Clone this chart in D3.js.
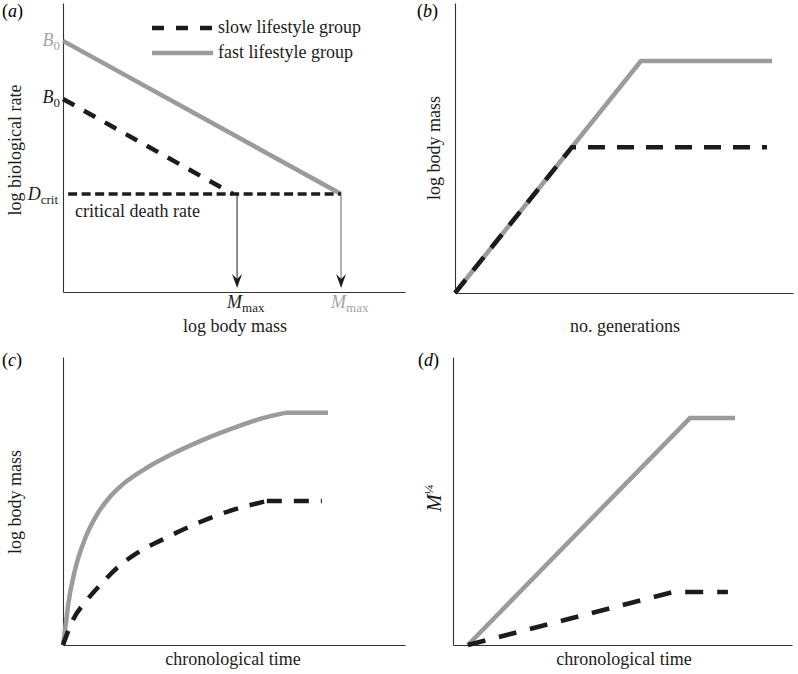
<!DOCTYPE html>
<html>
<head>
<meta charset="utf-8">
<script src="https://cdn.jsdelivr.net/npm/d3@7"></script>
<style>
body { margin: 0; background: #fff; }
svg { display: block; font-family: "Liberation Serif", "Times New Roman", "DejaVu Serif", serif; font-size: 18px; }
</style>
</head>
<body>
<svg width="798" height="674"></svg>
<script>
var svg = d3.select("svg");
var black = "#1c1c1c", grey = "#9b9b9b";

// data, every panel uses a 0..10 domain on both axes
var legendNames = ["slow lifestyle group", "fast lifestyle group"];

var aFast = [[0, 8.69], [8.13, 3.39]];
var aSlow = [[0, 6.68], [4.97, 3.39]];
var aDcrit = [[0.15, 3.39], [8.13, 3.39]];
var aArrowX = [5.09, 8.13];          // M_max slow, M_max fast
var aArrowY = [3.39, 0.14];          // from D_crit down to axis

var bFast = [[0, 0], [5.50, 8.0], [9.38, 8.0]];
var bSlow = [[0, 0], [3.46, 5.03], [9.23, 5.03]];

var cFast = [[0, 0], [0.09, 0.80], [0.15, 1.39], [0.35, 2.60], [0.64, 3.68], [1.02, 4.58],
             [1.37, 5.14], [1.73, 5.56], [2.49, 6.18], [3.19, 6.63], [4.01, 7.08],
             [4.97, 7.53], [5.76, 7.85], [6.49, 8.06]];
var cFastFlat = [[6.49, 8.06], [7.75, 8.06]];
var cSlow = [[0, 0], [0.29, 0.87], [0.70, 1.56], [1.14, 2.15], [1.61, 2.71], [2.16, 3.19],
             [2.89, 3.65], [4.01, 4.27], [4.97, 4.69], [5.96, 5.0]];
var cSlowFlat = [[5.96, 5.0], [7.57, 5.0]];

var dFast = [[0.44, 0], [6.99, 7.88], [8.32, 7.88]];
var dSlow = [[0.44, 0], [6.49, 1.84], [8.11, 1.84]];

function makeScales(xr, yr) {
    return {
        x: d3.scaleLinear().domain([0, 10]).range(xr),
        y: d3.scaleLinear().domain([0, 10]).range(yr)
    };
}
var sA = makeScales([63, 405], [292, 3]);
var sB = makeScales([455, 793], [293, 3]);
var sC = makeScales([63, 405], [645, 357]);
var sD = makeScales([453, 792], [645, 357]);

function drawAxes(s) {
    var g = svg.append("g");
    g.append("g")
        .attr("transform", "translate(" + s.x(0) + ",0)")
        .call(d3.axisLeft(s.y).ticks(0).tickSizeOuter(0));
    g.append("g")
        .attr("transform", "translate(0," + s.y(0) + ")")
        .call(d3.axisBottom(s.x).ticks(0).tickSizeOuter(0));
    g.selectAll(".domain").attr("stroke", "#333").attr("stroke-width", 1.1);
}

function drawLine(s, data, color, width, dash, curve) {
    var line = d3.line()
        .x(function (d) { return s.x(d[0]); })
        .y(function (d) { return s.y(d[1]); })
        .curve(curve || d3.curveLinear);
    svg.append("path")
        .datum(data)
        .attr("d", line)
        .attr("fill", "none")
        .attr("stroke", color)
        .attr("stroke-width", width)
        .attr("stroke-dasharray", dash || null);
}

function panelLabel(x, y, letter) {
    var t = svg.append("text").attr("x", x).attr("y", y);
    t.append("tspan").text("(");
    t.append("tspan").attr("font-style", "italic").text(letter);
    t.append("tspan").text(")");
}

function subLabel(x, y, main, sub, color, anchor) {
    var t = svg.append("text").attr("x", x).attr("y", y)
        .attr("fill", color).attr("text-anchor", anchor || "start");
    t.append("tspan").attr("font-style", "italic").text(main);
    t.append("tspan").attr("font-size", 13).attr("dy", 4).text(sub);
    return t;
}

function rotTitle(x, y, txt) {
    return svg.append("text")
        .attr("transform", "translate(" + x + "," + y + ") rotate(-90)")
        .attr("text-anchor", "middle")
        .attr("fill", black)
        .text(txt);
}

function xTitle(x, y, txt) {
    svg.append("text").attr("x", x).attr("y", y)
        .attr("text-anchor", "middle").attr("fill", black).text(txt);
}

// ---------- (a) ----------
drawAxes(sA);
drawLine(sA, aFast, grey, 4.5);
drawLine(sA, aSlow, black, 4.5, "13,11");
drawLine(sA, aDcrit, black, 3.5, "9,4.5");

aArrowX.forEach(function (ax, i) {
    svg.append("line")
        .attr("x1", sA.x(ax)).attr("x2", sA.x(ax))
        .attr("y1", sA.y(aArrowY[0])).attr("y2", sA.y(aArrowY[1]) - 6)
        .attr("stroke", i == 0 ? black : "#666").attr("stroke-width", 1);
    svg.append("path")
        .attr("transform", "translate(" + sA.x(ax) + "," + sA.y(aArrowY[1]) + ")")
        .attr("d", "M0,0 L-5,-14 L0,-9 L5,-14 Z")
        .attr("fill", black);
    subLabel(sA.x(ax) - 10, 308, "M", "max", i == 0 ? black : "#a5a5a5");
});

subLabel(sA.x(0) - 3, sA.y(aFast[0][1]) + 5, "B", "0", "#a5a5a5", "end");
subLabel(sA.x(0) - 3, sA.y(aSlow[0][1]) + 4, "B", "0", black, "end");
subLabel(sA.x(0) - 5, sA.y(aDcrit[0][1]) + 6, "D", "crit", black, "end");
svg.append("text").attr("x", 75).attr("y", sA.y(aDcrit[0][1]) + 23)
    .attr("fill", black).text("critical death rate");

// legend
legendNames.forEach(function (name, i) {
    var ly = 28 + i * 25;
    svg.append("line")
        .attr("x1", 152).attr("x2", 213).attr("y1", ly).attr("y2", ly)
        .attr("stroke", i == 0 ? black : grey)
        .attr("stroke-width", 4.5)
        .attr("stroke-dasharray", i == 0 ? "12,12" : null);
    svg.append("text").attr("x", 218).attr("y", ly + 5).attr("fill", black).text(name);
});

panelLabel(2, 17, "a");
rotTitle(21, 150, "log biological rate");
xTitle(235, 332, "log body mass");

// ---------- (b) ----------
drawAxes(sB);
drawLine(sB, bFast, grey, 4.5);
drawLine(sB, bSlow, black, 4.5, "17,12");
panelLabel(417, 17, "b");
rotTitle(440, 148, "log body mass");
xTitle(625, 332, "no. generations");

// ---------- (c) ----------
drawAxes(sC);
drawLine(sC, cFast, grey, 4.5, null, d3.curveMonotoneX);
drawLine(sC, cFastFlat, grey, 4.5);
drawLine(sC, cSlow, black, 4.5, "15,12", d3.curveMonotoneX);
drawLine(sC, cSlowFlat, black, 4.5, "15,12");
panelLabel(2, 366, "c");
rotTitle(21, 502, "log body mass");
xTitle(233, 665, "chronological time");

// ---------- (d) ----------
drawAxes(sD);
drawLine(sD, dFast, grey, 4.5);
drawLine(sD, dSlow, black, 4.5, "18,14");
panelLabel(418, 366, "d");
var mt = svg.append("text")
    .attr("transform", "translate(441,498) rotate(-90)")
    .attr("text-anchor", "middle").attr("fill", black);
mt.append("tspan").attr("font-style", "italic").attr("font-size", 21).text("M");
mt.append("tspan").attr("font-size", 13).attr("dy", -8).text("¼");
xTitle(624, 665, "chronological time");
</script>
</body>
</html>
